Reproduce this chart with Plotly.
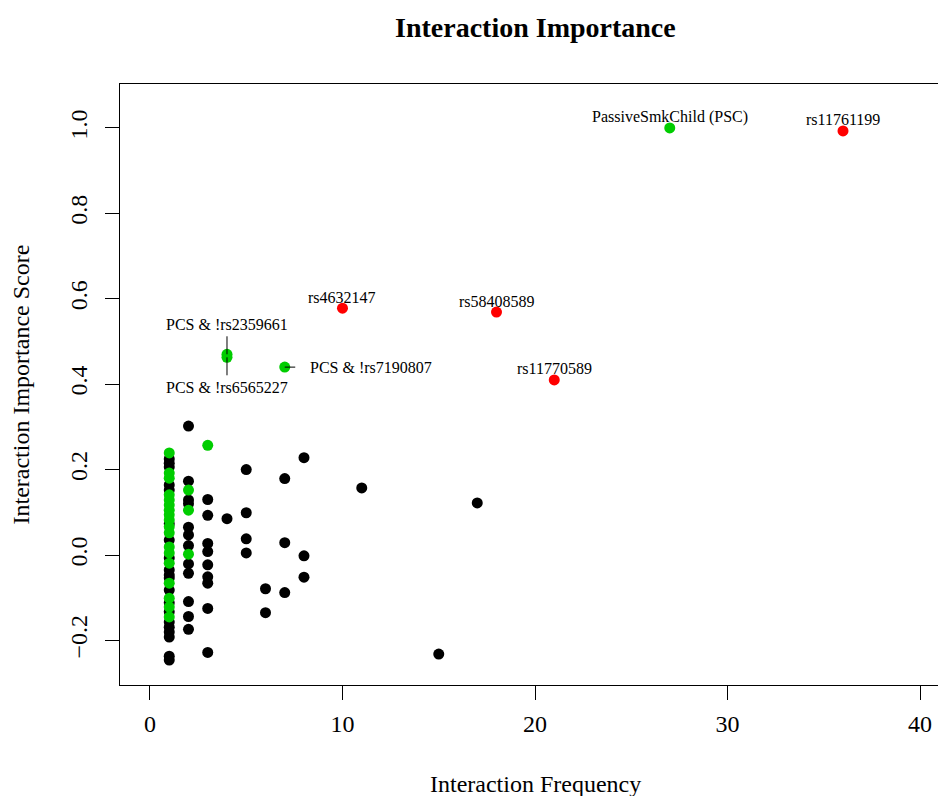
import plotly.graph_objects as go

# ---- data ----
black_x = [1]*20 + [2]*12 + [3]*9 + [4] + [5]*4 + [6]*2 + [7]*3 + [8]*3 + [11, 15, 17]
black_y = [0.225, 0.215, 0.206, 0.164, 0.152, 0.073, 0.035, -0.007, -0.035, -0.047,
           -0.054, -0.082, -0.112, -0.133, -0.157, -0.169, -0.180, -0.192, -0.237, -0.246,
           0.302, 0.173, 0.129, 0.120, 0.065, 0.047, 0.022, -0.021, -0.043, -0.109, -0.144, -0.174,
           0.130, 0.093, 0.027, 0.008, -0.023, -0.051, -0.066, -0.125, -0.228,
           0.085,
           0.200, 0.099, 0.038, 0.005,
           -0.079, -0.135,
           0.179, 0.029, -0.088,
           0.228, -0.002, -0.052,
           0.157, -0.232, 0.122]

green_x = [1]*18 + [2]*3 + [3]
green_y = [0.239, 0.192, 0.180, 0.141, 0.129, 0.117, 0.105, 0.094, 0.082, 0.066,
           0.052, 0.019, 0.005, -0.019, -0.066, -0.101, -0.122, -0.145,
           0.152, 0.105, 0.002,
           0.257]

# labelled green points
lg_x = [27, 4, 4, 7]
lg_y = [1.0, 0.470, 0.463, 0.44]
lg_labels = ["PassiveSmkChild (PSC)", "PCS & !rs2359661", "PCS & !rs6565227", "PCS & !rs7190807"]

red_x = [36, 10, 18, 21]
red_y = [0.993, 0.578, 0.569, 0.41]
red_labels = ["rs11761199", "rs4632147", "rs58408589", "rs11770589"]

x_ticks = [0, 10, 20, 30, 40]
y_ticks = [-0.2, 0.0, 0.2, 0.4, 0.6, 0.8, 1.0]

FONT = "Liberation Serif, Times New Roman, serif"
GREEN = "#00CD00"
RED = "#FF0000"
MS = 11

fig = go.Figure()
fig.add_trace(go.Scatter(x=black_x, y=black_y, mode="markers",
                         marker=dict(color="black", size=MS), showlegend=False))
fig.add_trace(go.Scatter(x=green_x + lg_x, y=green_y + lg_y, mode="markers",
                         marker=dict(color=GREEN, size=MS), showlegend=False))
fig.add_trace(go.Scatter(x=red_x, y=red_y, mode="markers",
                         marker=dict(color=RED, size=MS), showlegend=False))

ann = []
lab_font = dict(family=FONT, size=16, color="black")
# labels above points
for x, y, t in [(lg_x[0], lg_y[0], lg_labels[0])] + list(zip(red_x, red_y, red_labels)):
    ann.append(dict(x=x, y=y, text=t, showarrow=False, yshift=11, font=lab_font))
# labels with leader lines
ann.append(dict(x=lg_x[1], y=lg_y[1], text=lg_labels[1], showarrow=True, arrowhead=0,
                arrowwidth=1, arrowcolor="black", ax=0, ay=-30, startstandoff=2, font=lab_font))
ann.append(dict(x=lg_x[2], y=lg_y[2], text=lg_labels[2], showarrow=True, arrowhead=0,
                arrowwidth=1, arrowcolor="black", ax=0, ay=30, startstandoff=2, font=lab_font))
ann.append(dict(x=lg_x[3], y=lg_y[3], text=lg_labels[3], showarrow=True, arrowhead=0,
                arrowwidth=1, arrowcolor="black", ax=86, ay=0, startstandoff=13, font=lab_font))

# titles
ann.append(dict(x=20, xref="x", y=1, yref="paper", yshift=57, yanchor="middle", xanchor="center",
                text="<b>Interaction Importance</b>",
                showarrow=False, font=dict(family=FONT, size=28, color="black")))
ann.append(dict(x=20, xref="x", y=0, yref="paper", yshift=-99, yanchor="middle", xanchor="center",
                text="Interaction Frequency",
                showarrow=False, font=dict(family=FONT, size=24, color="black")))
ann.append(dict(x=0, xref="paper", xshift=-100, y=0.5, yref="paper", xanchor="center",
                yanchor="middle", text="Interaction Importance Score",
                textangle=-90, showarrow=False, font=dict(family=FONT, size=24, color="black")))

fig.update_layout(
    width=938, height=796,
    margin=dict(l=120, r=0, t=84, b=111),
    plot_bgcolor="white", paper_bgcolor="white",
    annotations=ann,
    font=dict(family=FONT, size=24, color="black"),
)
fig.update_xaxes(range=[-1.558, 40.935], tickvals=x_ticks, ticks="outside", ticklen=14,
                 tickwidth=1, tickcolor="black", showline=True, linecolor="black", linewidth=1,
                 mirror=True, showgrid=False, zeroline=False, ticklabelstandoff=3,
                 tickfont=dict(family=FONT, size=24))
fig.update_yaxes(range=[-0.3044, 1.103], tickvals=y_ticks, tickformat=".1f", ticks="outside",
                 ticklen=14, tickwidth=1, tickcolor="black", showline=True, linecolor="black",
                 linewidth=1, mirror=False, showgrid=False, zeroline=False, tickangle=-90,
                 ticklabelstandoff=8, tickfont=dict(family=FONT, size=24))

fig.write_html("out.html", config={"displayModeBar": False},
               post_script="document.body.style.margin='0';document.body.style.overflow='hidden';")
